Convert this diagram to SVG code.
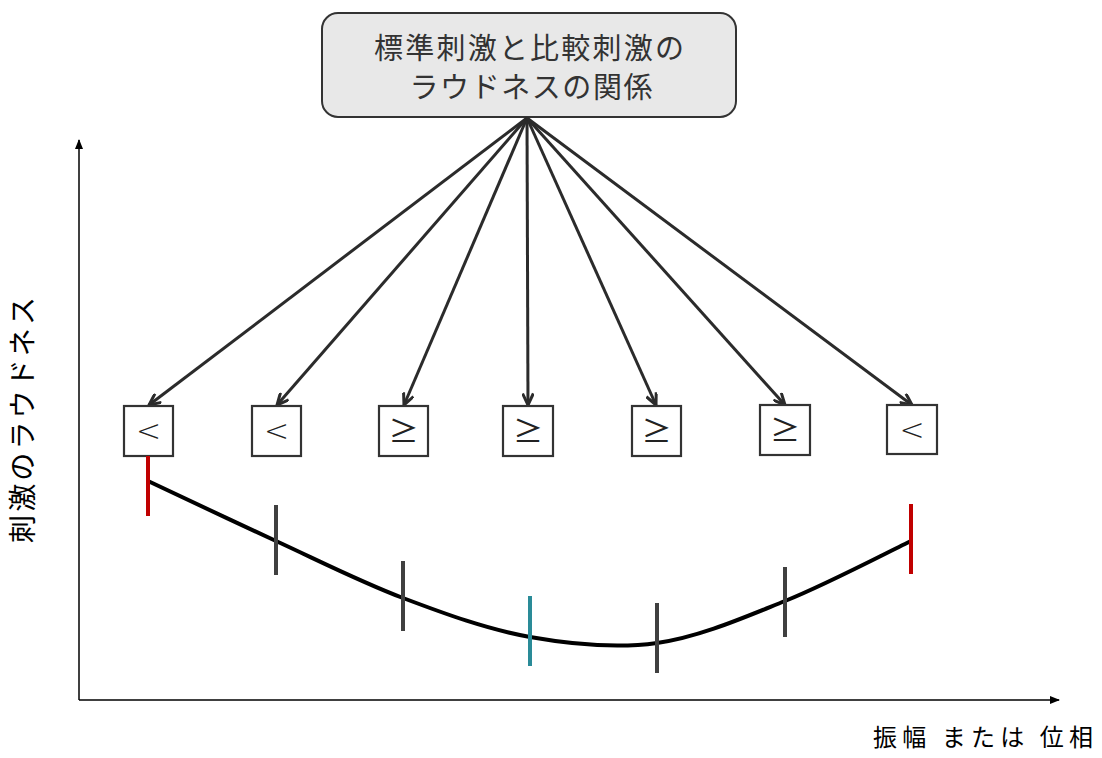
<svg xmlns="http://www.w3.org/2000/svg" width="1102" height="758" viewBox="0 0 1102 758">
<style>
  .title{font-family:"Noto Sans CJK JP","Noto Sans",sans-serif;font-size:29px;fill:#333;text-anchor:middle}
  .lab{font-family:"Noto Sans CJK JP","Noto Sans",sans-serif;fill:#000}
  .sym{font-family:"Noto Sans CJK JP","DejaVu Sans",sans-serif;font-size:30px;fill:#222;text-anchor:middle}
  .lt{font-family:"DejaVu Sans","Liberation Sans",sans-serif;font-weight:200;font-size:30px;fill:#222;text-anchor:middle}
  .box{fill:#fff;stroke:#333;stroke-width:2.2}
  .conn{stroke:#2b2b2b;stroke-width:3;fill:none;marker-end:url(#open)}
  .axis{stroke:#000;stroke-width:1.5;fill:none;marker-end:url(#tri)}
  .tick{stroke-width:4;fill:none}
</style>
<defs>
  <marker id="open" viewBox="0 0 14 12" refX="12.5" refY="6" markerWidth="14" markerHeight="12" markerUnits="userSpaceOnUse" orient="auto">
    <path d="M1,0.6 L12.5,6 L1,11.4" fill="none" stroke="#2b2b2b" stroke-width="3"/>
  </marker>
  <marker id="tri" viewBox="0 0 10 8" refX="9" refY="4" markerWidth="10" markerHeight="8" markerUnits="userSpaceOnUse" orient="auto">
    <path d="M0,0 L10,4 L0,8 Z" fill="#000"/>
  </marker>
</defs>
<rect width="1102" height="758" fill="#fff"/>

<g id="axes">
  <line class="axis" x1="79" y1="700" x2="79" y2="140"/>
  <line class="axis" x1="79" y1="700" x2="1059" y2="700"/>
  <text class="lab" font-size="28" transform="translate(33,420) rotate(-90)" text-anchor="middle" textLength="246" lengthAdjust="spacing">刺激のラウドネス</text>
  <text class="lab" x="873" y="746" font-size="24" textLength="220" lengthAdjust="spacing">振幅 または 位相</text>
</g>

<g id="title">
  <rect x="322" y="13" width="414" height="104" rx="16" fill="#e8e8e8" stroke="#333" stroke-width="2"/>
  <text class="title" x="529" y="59" textLength="310" lengthAdjust="spacing">標準刺激と比較刺激の</text>
  <text class="title" x="531" y="98" textLength="243" lengthAdjust="spacing">ラウドネスの関係</text>
</g>

<g id="connectors">
  <line class="conn" x1="527" y1="118" x2="149" y2="405"/>
  <line class="conn" x1="527" y1="118" x2="277" y2="405"/>
  <line class="conn" x1="527" y1="118" x2="404" y2="405"/>
  <line class="conn" x1="527" y1="118" x2="528" y2="405"/>
  <line class="conn" x1="527" y1="118" x2="656" y2="405"/>
  <line class="conn" x1="527" y1="118" x2="785" y2="405"/>
  <line class="conn" x1="527" y1="118" x2="912" y2="405"/>
</g>

<g id="n1"><rect class="box" x="124" y="406" width="49" height="50"/><text class="lt" x="148.5" y="441">&lt;</text></g>
<g id="n2"><rect class="box" x="252" y="406" width="49" height="50"/><text class="lt" x="276.5" y="441">&lt;</text></g>
<g id="n3"><rect class="box" x="379" y="406" width="49" height="50"/><text class="sym" x="403.5" y="442">≥</text></g>
<g id="n4"><rect class="box" x="503" y="406" width="50" height="50"/><text class="sym" x="528" y="442">≥</text></g>
<g id="n5"><rect class="box" x="632" y="406" width="49" height="50"/><text class="sym" x="656.5" y="442">≥</text></g>
<g id="n6"><rect class="box" x="760" y="405" width="50" height="50"/><text class="sym" x="785" y="441">≥</text></g>
<g id="n7"><rect class="box" x="887" y="405" width="50" height="49"/><text class="lt" x="912" y="440">&lt;</text></g>

<g id="curve">
  <path d="M148,481 C169.3,491 233.5,521.5 276,541 C318.5,560.5 360.7,582 403,598 C445.3,614 487.7,629.5 530,637 C572.3,644.5 614.5,649 657,643 C699.5,637 742.7,618 785,601 C827.3,584 890,551 911,541" fill="none" stroke="#000" stroke-width="4"/>
</g>

<g id="ticks">
  <line class="tick" stroke="#c00000" x1="148" y1="456" x2="148" y2="516"/>
  <line class="tick" stroke="#404040" x1="276" y1="505" x2="276" y2="575"/>
  <line class="tick" stroke="#404040" x1="403" y1="561" x2="403" y2="631"/>
  <line class="tick" stroke="#2a8b98" x1="530" y1="596" x2="530" y2="666"/>
  <line class="tick" stroke="#404040" x1="657" y1="603" x2="657" y2="673"/>
  <line class="tick" stroke="#404040" x1="785" y1="567" x2="785" y2="637"/>
  <line class="tick" stroke="#c00000" x1="911" y1="504" x2="911" y2="574"/>
</g>
</svg>
